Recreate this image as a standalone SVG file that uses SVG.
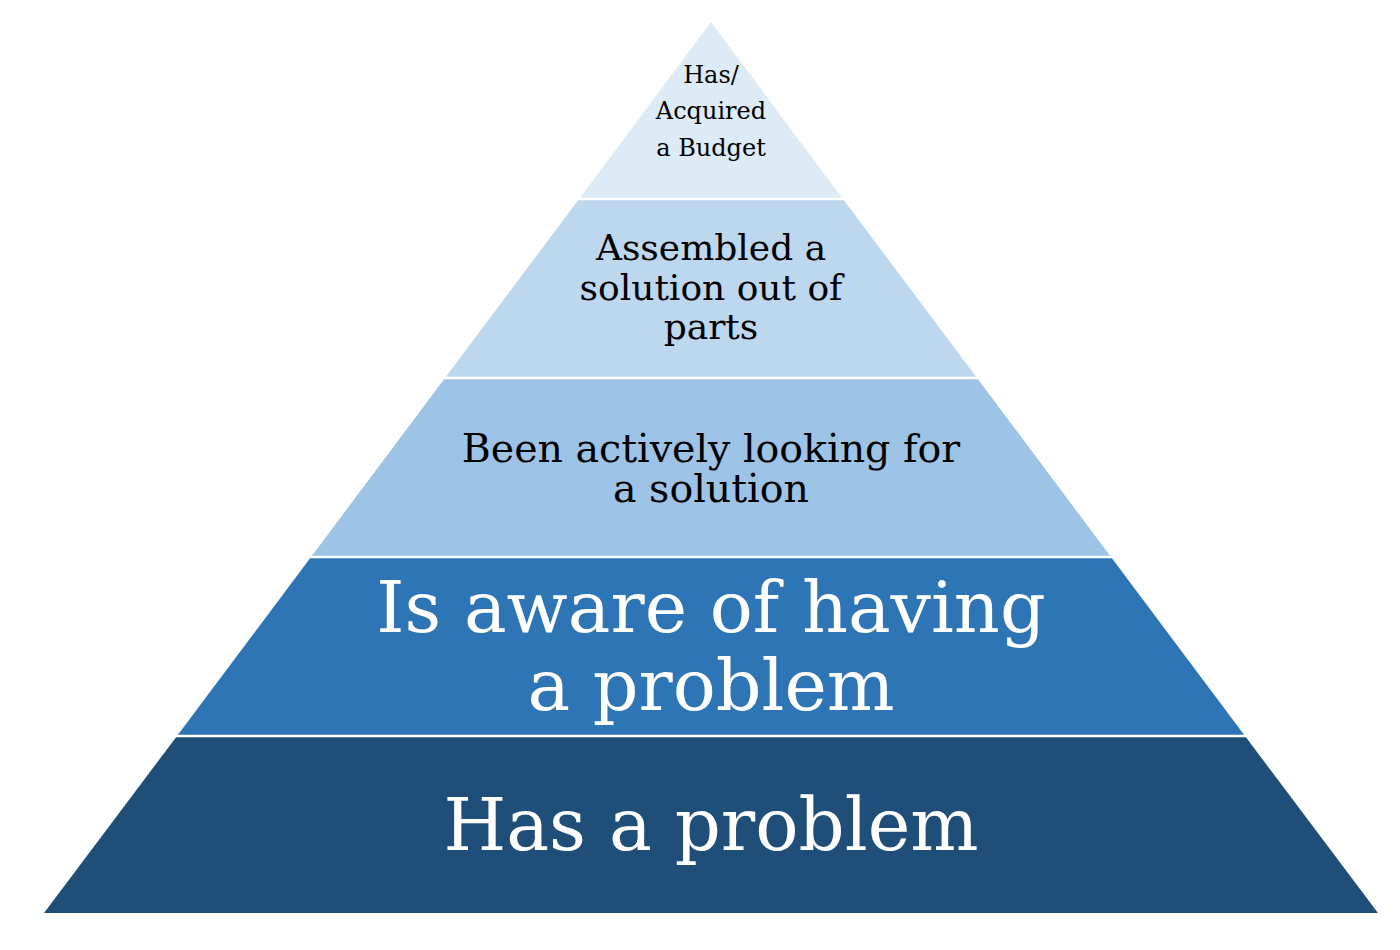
<svg xmlns="http://www.w3.org/2000/svg" width="1400" height="950" viewBox="0 0 1400 950">
<style>
text{font-family:"DejaVu Serif","Liberation Serif",serif;text-anchor:middle}
.dk{fill:#000}
.lt{fill:#fff}
.sep{stroke:#fff;stroke-width:2.5}
</style>
<rect width="1400" height="950" fill="#fff"/>
<g id="level5"><polygon points="44,913 1378,913 1245,736 177,736" fill="#1F4E79"/>
<text class="lt" x="711" y="850" font-size="72">Has a problem</text></g>
<g id="level4"><polygon points="177,736 1245,736 1111,557 311,557" fill="#2E75B6"/>
<text class="lt" x="711" y="632" font-size="71.5">Is aware of having</text>
<text class="lt" x="711" y="710" font-size="71.5">a problem</text></g>
<g id="level3"><polygon points="311,557 1111,557 977,378 445,378" fill="#9DC3E6"/>
<text class="dk" x="711" y="462" font-size="39.5">Been actively looking for</text>
<text class="dk" x="711" y="502" font-size="39.5">a solution</text></g>
<g id="level2"><polygon points="445,378 977,378 843,199 579,199" fill="#BDD7EE"/>
<text class="dk" x="711" y="260" font-size="36">Assembled a</text>
<text class="dk" x="711" y="300" font-size="36">solution out of</text>
<text class="dk" x="711" y="339" font-size="36">parts</text></g>
<g id="level1"><polygon points="579,199 843,199 711,22" fill="#DDEBF7"/>
<text class="dk" x="711" y="83" font-size="24">Has/</text>
<text class="dk" x="711" y="119" font-size="24">Acquired</text>
<text class="dk" x="711" y="156" font-size="24">a Budget</text></g>
<g id="separators">
<line class="sep" x1="100" y1="736" x2="1300" y2="736"/>
<line class="sep" x1="250" y1="557" x2="1150" y2="557"/>
<line class="sep" x1="400" y1="378" x2="1000" y2="378"/>
<line class="sep" x1="500" y1="199" x2="900" y2="199"/>
</g>
</svg>
